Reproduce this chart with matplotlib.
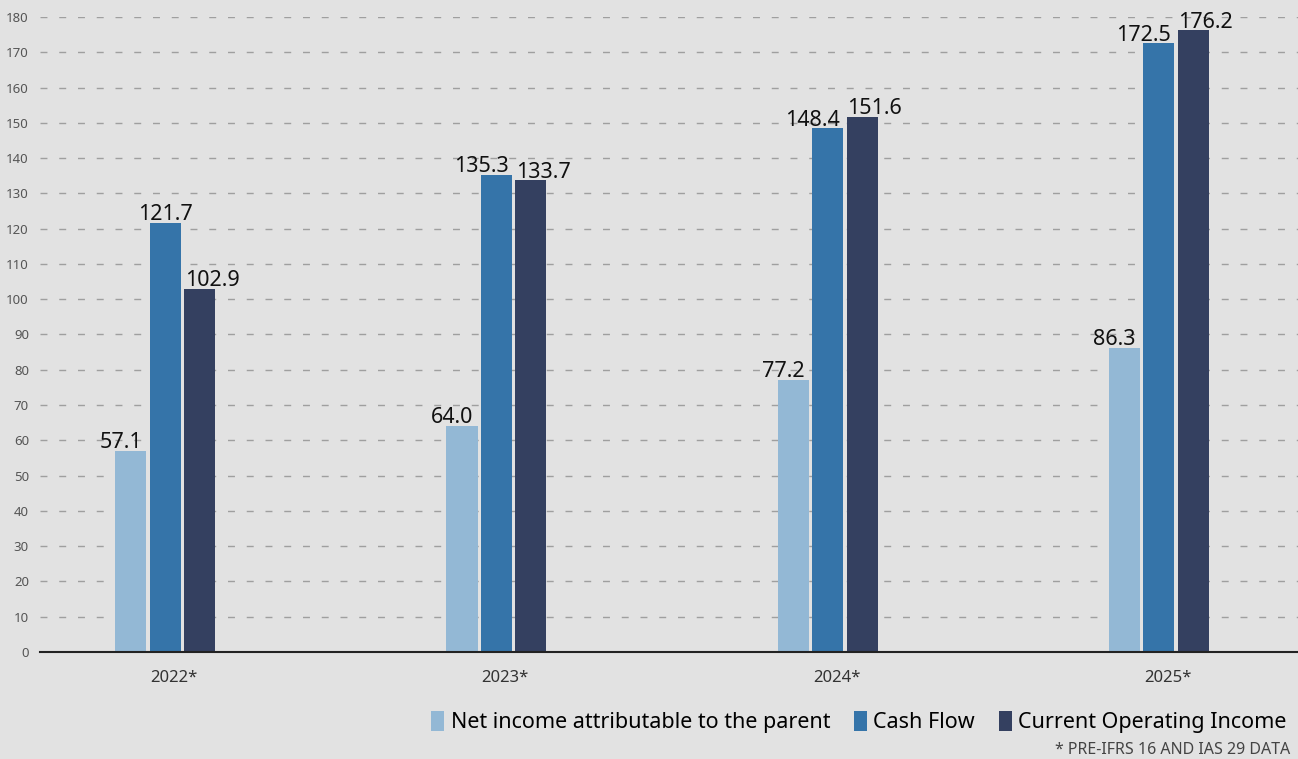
import matplotlib.pyplot as plt
import numpy as np

plt.rcParams['font.family'] = ['Noto Sans', 'DejaVu Sans']

years = ['2022*', '2023*', '2024*', '2025*']
net_income = [57.1, 64.0, 77.2, 86.3]
cash_flow = [121.7, 135.3, 148.4, 172.5]
op_income = [102.9, 133.7, 151.6, 176.2]
series_names = ['Net income attributable to the parent', 'Cash Flow',
                'Current Operating Income']
colors = ['#93b8d5', '#3574a9', '#344060']
bg = '#e2e2e2'

fig = plt.figure(figsize=(12.98, 7.59), dpi=100, facecolor=bg)
ax = fig.add_axes([40 / 1298, 1 - 652 / 759, 1258 / 1298, 635 / 759])
ax.set_facecolor(bg)

x = np.arange(len(years))
width = 0.094
offset = 0.104
all_vals = [net_income, cash_flow, op_income]
for i, vals in enumerate(all_vals):
    bars = ax.bar(x + (i - 1) * offset, vals, width, color=colors[i],
                  label=series_names[i], zorder=3)
    for j, (b, v) in enumerate(zip(bars, vals)):
        # push the labels apart when the two tall bars are close in height
        close = abs(cash_flow[j] - op_income[j]) < 12
        dx = [-7, -11 if close else 0, 9][i]
        ax.annotate('%.1f' % v, (b.get_x() + b.get_width() / 2, v),
                    xytext=(dx, 2), textcoords='offset points',
                    ha='center', va='baseline', fontsize=15.5,
                    color='#111111', zorder=4)

ax.set_xlim(-0.378, 3.42)
ax.set_ylim(0, 180)
ax.set_yticks(np.arange(0, 181, 10))
ax.set_xticks(x + 0.027)
ax.set_xticklabels(years, fontsize=12, color='#333333')
ax.tick_params(axis='y', length=0, labelsize=9.5, labelcolor='#555555', pad=8)
ax.tick_params(axis='x', length=0, pad=13)
ax.yaxis.grid(True, color='#9f9f9f', linewidth=1, dashes=(5, 8.5), zorder=0)
for s in ['top', 'right', 'left']:
    ax.spines[s].set_visible(False)
ax.spines['bottom'].set_color('#222222')
ax.spines['bottom'].set_linewidth(1.5)
ax.spines['bottom'].set_zorder(5)

fig.legend(loc='lower right', bbox_to_anchor=(1295 / 1298, 1 - 742 / 759),
           ncol=3, frameon=False, fontsize=15.5, handlelength=0.6,
           handleheight=1.0, handletextpad=0.3, columnspacing=1.1,
           borderaxespad=0)
fig.text(1290 / 1298, 1 - 750 / 759, '* PRE-IFRS 16 AND IAS 29 DATA',
         ha='right', va='center', fontsize=11.5, color='#444444')

plt.savefig('out.png', dpi=100, facecolor=bg)
